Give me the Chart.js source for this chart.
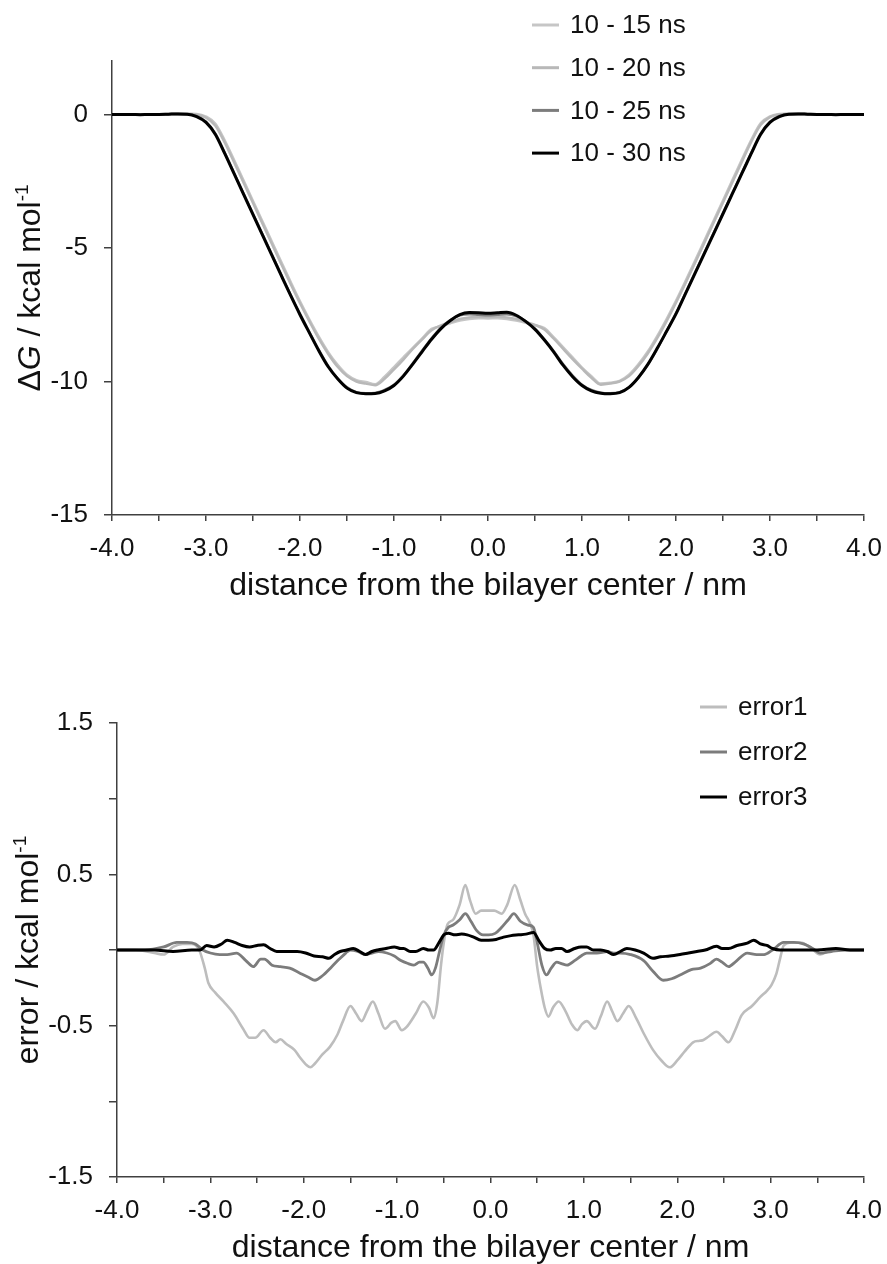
<!DOCTYPE html>
<html lang="en">
<head>
<meta charset="UTF-8">
<title>Free energy profile</title>
<style>
    body { margin: 0; background: #fff; }
    .panel { position: absolute; left: 0; width: 887px; }
    #topPanel { top: 0; height: 620px; }
    #bottomPanel { top: 620px; height: 644px; }
</style>
</head>
<body>
<div class="panel" id="topPanel"><canvas id="dgChart"></canvas></div>
<div class="panel" id="bottomPanel"><canvas id="errChart"></canvas></div>
<script src="https://cdn.jsdelivr.net/npm/chart.js@4.4.1/dist/chart.umd.min.js"></script>
<script>
// distance grid for the free energy curves (nm)
const dgX = [-4.0,-3.9,-3.8,-3.7,-3.6,-3.5,-3.4,-3.3,-3.2,-3.1,-3.0,-2.9,-2.8,-2.7,-2.6,-2.5,-2.4,-2.3,-2.2,-2.1,
    -2.0,-1.9,-1.8,-1.7,-1.6,-1.5,-1.4,-1.3,-1.2,-1.1,-1.0,-0.9,-0.8,-0.7,-0.6,-0.5,-0.4,-0.3,-0.2,-0.1,
    0.0,0.1,0.2,0.3,0.4,0.5,0.6,0.7,0.8,0.9,1.0,1.1,1.2,1.3,1.4,1.5,1.6,1.7,1.8,1.9,
    2.0,2.1,2.2,2.3,2.4,2.5,2.6,2.7,2.8,2.9,3.0,3.1,3.2,3.3,3.4,3.5,3.6,3.7,3.8,3.9,4.0];

const dg15 = [0,0,0,0,0.01,0.01,0.02,0.03,0.03,0.02,-0.08,-0.35,-0.98,-1.72,-2.48,-3.24,-4.0,-4.76,-5.52,-6.27,
    -7.0,-7.68,-8.32,-8.9,-9.38,-9.75,-9.95,-10.02,-10.1,-9.82,-9.46,-9.1,-8.74,-8.39,-8.03,-7.93,-7.82,-7.72,-7.66,-7.63,
    -7.64,-7.63,-7.66,-7.72,-7.8,-7.9,-8.0,-8.35,-8.72,-9.1,-9.48,-9.8,-10.08,-10.05,-9.98,-9.75,-9.36,-8.88,-8.3,-7.66,
    -6.98,-6.25,-5.5,-4.74,-3.98,-3.22,-2.46,-1.7,-0.96,-0.33,-0.07,0.02,0.03,0.03,0.02,0.01,0.01,0,0,0,0];

const dg20 = [0,0,0,0,0,0.01,0.01,0.02,0.02,0.0,-0.12,-0.42,-1.06,-1.8,-2.56,-3.32,-4.08,-4.84,-5.6,-6.35,
    -7.07,-7.75,-8.4,-8.97,-9.45,-9.8,-10.0,-10.08,-10.14,-9.9,-9.55,-9.18,-8.78,-8.42,-8.08,-7.9,-7.78,-7.66,-7.6,-7.58,
    -7.59,-7.58,-7.6,-7.66,-7.77,-7.88,-8.05,-8.4,-8.78,-9.16,-9.52,-9.86,-10.12,-10.08,-10.0,-9.8,-9.42,-8.95,-8.38,-7.74,
    -7.05,-6.33,-5.58,-4.82,-4.06,-3.3,-2.54,-1.78,-1.03,-0.4,-0.1,0.0,0.02,0.02,0.01,0.01,0,0,0,0,0];

const dg25 = [0,0,0,-0.01,0,0,0.01,0.02,0.01,-0.06,-0.27,-0.72,-1.44,-2.2,-2.96,-3.72,-4.48,-5.24,-6.0,-6.75,
    -7.47,-8.15,-8.82,-9.42,-9.88,-10.22,-10.4,-10.44,-10.43,-10.32,-10.12,-9.77,-9.32,-8.84,-8.38,-7.98,-7.7,-7.52,-7.48,-7.5,
    -7.52,-7.5,-7.48,-7.55,-7.74,-8.02,-8.42,-8.87,-9.36,-9.78,-10.12,-10.32,-10.42,-10.44,-10.4,-10.22,-9.86,-9.38,-8.78,-8.12,
    -7.44,-6.7,-5.94,-5.19,-4.44,-3.69,-2.94,-2.19,-1.44,-0.72,-0.27,-0.06,0.01,0.02,0.01,0,0,-0.01,0,0,0];

const dg30 = [0,0,0,-0.01,0,0,0.01,0.02,0.01,-0.08,-0.3,-0.75,-1.47,-2.23,-2.99,-3.75,-4.51,-5.27,-6.03,-6.78,
    -7.5,-8.18,-8.85,-9.45,-9.9,-10.25,-10.42,-10.46,-10.45,-10.35,-10.15,-9.8,-9.35,-8.88,-8.42,-8.02,-7.72,-7.5,-7.42,-7.43,
    -7.45,-7.43,-7.41,-7.52,-7.75,-8.05,-8.45,-8.9,-9.4,-9.82,-10.15,-10.35,-10.44,-10.46,-10.42,-10.22,-9.85,-9.36,-8.76,-8.12,
    -7.47,-6.72,-5.97,-5.22,-4.47,-3.72,-2.97,-2.22,-1.47,-0.75,-0.3,-0.08,0.01,0.02,0.01,0,0,-0.01,0,0,0];

// error curves, sampled where they change
const err1X = [-4.0,-3.8,-3.6,-3.5,-3.4,-3.3,-3.2,-3.12,-3.06,-3.02,-2.95,-2.86,-2.75,-2.65,-2.58,-2.52,-2.43,-2.36,-2.3,-2.25,
    -2.19,-2.1,-2.04,-1.97,-1.93,-1.88,-1.8,-1.72,-1.64,-1.58,-1.5,-1.44,-1.38,-1.32,-1.26,-1.2,-1.13,-1.06,-1.02,-0.95,
    -0.9,-0.8,-0.72,-0.66,-0.61,-0.57,-0.53,-0.5,-0.46,-0.4,-0.33,-0.27,-0.22,-0.16,-0.1,-0.04,0.04,0.12,0.18,0.26,
    0.32,0.37,0.42,0.46,0.5,0.54,0.58,0.62,0.67,0.73,0.8,0.87,0.93,0.98,1.03,1.12,1.18,1.25,1.3,1.36,
    1.42,1.48,1.56,1.64,1.74,1.83,1.92,2.0,2.08,2.17,2.24,2.28,2.34,2.42,2.48,2.55,2.62,2.69,2.8,2.89,
    2.96,3.01,3.06,3.1,3.14,3.22,3.32,3.42,3.53,3.62,3.75,4.0];
const err1 = [0,0,-0.02,-0.03,0.02,0.04,0.04,0.0,-0.12,-0.22,-0.28,-0.34,-0.42,-0.52,-0.58,-0.58,-0.53,-0.58,-0.61,-0.59,
    -0.62,-0.66,-0.71,-0.76,-0.775,-0.75,-0.69,-0.64,-0.56,-0.47,-0.37,-0.42,-0.47,-0.4,-0.34,-0.42,-0.52,-0.48,-0.47,-0.53,
    -0.51,-0.42,-0.34,-0.38,-0.45,-0.35,-0.1,0.05,0.17,0.2,0.3,0.43,0.33,0.24,0.26,0.26,0.26,0.24,0.3,0.43,
    0.33,0.24,0.18,0.1,-0.11,-0.26,-0.38,-0.44,-0.38,-0.34,-0.4,-0.49,-0.53,-0.49,-0.47,-0.52,-0.44,-0.34,-0.4,-0.47,
    -0.42,-0.37,-0.45,-0.55,-0.66,-0.73,-0.775,-0.73,-0.67,-0.61,-0.6,-0.595,-0.57,-0.54,-0.57,-0.61,-0.53,-0.43,-0.37,-0.31,
    -0.27,-0.23,-0.16,-0.06,0.03,0.05,0.05,0.02,-0.03,-0.01,0,0];

const err2X = [-4.0,-3.7,-3.5,-3.36,-3.25,-3.16,-3.08,-3.0,-2.9,-2.82,-2.72,-2.62,-2.54,-2.46,-2.42,-2.34,-2.25,-2.15,-2.05,-1.95,
    -1.88,-1.8,-1.7,-1.62,-1.55,-1.5,-1.42,-1.34,-1.27,-1.2,-1.11,-1.03,-0.96,-0.88,-0.82,-0.76,-0.72,-0.67,-0.63,-0.59,
    -0.55,-0.5,-0.45,-0.4,-0.33,-0.27,-0.21,-0.15,-0.08,-0.02,0.05,0.12,0.19,0.25,0.32,0.4,0.46,0.5,0.55,0.6,
    0.65,0.71,0.76,0.82,0.9,0.97,1.03,1.14,1.25,1.32,1.39,1.5,1.64,1.74,1.85,1.94,2.03,2.15,2.25,2.35,
    2.42,2.48,2.55,2.62,2.75,2.85,2.93,3.02,3.14,3.25,3.35,3.45,3.53,3.65,3.8,4.0];
const err2 = [0,0,0.02,0.05,0.05,0.04,0.0,-0.02,-0.03,-0.03,-0.02,-0.07,-0.11,-0.06,-0.06,-0.1,-0.11,-0.12,-0.15,-0.18,
    -0.2,-0.17,-0.11,-0.06,-0.02,0.0,-0.01,-0.03,-0.02,-0.01,-0.02,-0.04,-0.07,-0.09,-0.1,-0.08,-0.08,-0.12,-0.165,-0.12,
    -0.02,0.1,0.15,0.165,0.2,0.24,0.19,0.13,0.1,0.1,0.11,0.15,0.2,0.24,0.19,0.165,0.15,0.05,-0.1,-0.165,
    -0.12,-0.08,-0.09,-0.1,-0.07,-0.04,-0.02,-0.02,-0.01,-0.02,-0.02,-0.03,-0.07,-0.14,-0.2,-0.19,-0.165,-0.13,-0.12,-0.09,
    -0.06,-0.08,-0.11,-0.08,-0.02,-0.03,-0.03,0.0,0.05,0.05,0.04,0.01,-0.02,-0.01,0,0];

const err3X = [-4.0,-3.8,-3.6,-3.4,-3.2,-3.11,-3.04,-2.96,-2.88,-2.82,-2.74,-2.66,-2.58,-2.5,-2.43,-2.36,-2.29,-2.18,-2.07,-1.98,
    -1.89,-1.8,-1.73,-1.67,-1.61,-1.54,-1.47,-1.4,-1.34,-1.27,-1.21,-1.12,-1.03,-0.96,-0.93,-0.86,-0.8,-0.72,-0.66,-0.61,
    -0.55,-0.5,-0.45,-0.38,-0.31,-0.25,-0.18,-0.1,-0.02,0.06,0.14,0.22,0.3,0.38,0.46,0.52,0.58,0.64,0.7,0.76,
    0.82,0.9,0.97,1.03,1.1,1.18,1.25,1.32,1.39,1.46,1.55,1.64,1.74,1.82,1.92,2.03,2.12,2.21,2.3,2.42,
    2.48,2.55,2.64,2.75,2.82,2.89,2.96,3.02,3.1,3.3,3.5,3.7,3.85,4.0];
const err3 = [0,0,0,-0.01,0,0,0.03,0.02,0.04,0.065,0.05,0.03,0.02,0.03,0.035,0.01,-0.01,-0.01,-0.01,-0.02,
    -0.04,-0.045,-0.055,-0.03,-0.01,0,0.01,-0.01,-0.03,-0.01,0,0.01,0.02,0.01,0.01,-0.01,-0.01,0.01,0,0,
    0.05,0.1,0.11,0.1,0.105,0.1,0.085,0.065,0.065,0.07,0.085,0.095,0.1,0.105,0.115,0.06,0.01,0,0.01,0.01,
    -0.01,0.01,0.02,0.02,0,0,-0.01,-0.03,-0.01,0.01,0,-0.02,-0.055,-0.045,-0.04,-0.03,-0.02,-0.01,0,0.025,
    0.01,0.01,0.03,0.045,0.065,0.04,0.03,0.01,0,0,0,0.01,0,0];

// axis ticks
const xTicks = [-4.0,-3.5,-3.0,-2.5,-2.0,-1.5,-1.0,-0.5,0.0,0.5,1.0,1.5,2.0,2.5,3.0,3.5,4.0];
const dgTicks = [-15, -10, -5, 0];
const errTicks = [-1.5, -1.0, -0.5, 0.0, 0.5, 1.0, 1.5];
const errLabelled = [-1.5, -0.5, 0.5, 1.5];

const FONT = '"Liberation Sans", Arial, Helvetica, sans-serif';
const INK = '#111111';
const AXIS = '#404040';
Chart.defaults.font.family = FONT;
Chart.defaults.color = INK;

function pts(xs, ys) {
    return xs.map((x, i) => ({x: x, y: ys[i]}));
}

function series(label, xs, ys, color, order, width) {
    return {
        label: label, data: pts(xs, ys), borderColor: color, backgroundColor: color,
        borderWidth: width, pointRadius: 0, cubicInterpolationMode: 'monotone', order: order
    };
}

// legend and axis titles drawn by hand (italic G, superscript -1)
function decor(o) {
    return {
        id: 'decor',
        afterDraw(chart) {
            const ctx = chart.ctx, a = chart.chartArea;
            ctx.save();
            ctx.font = '26px ' + FONT;
            ctx.textBaseline = 'middle';
            ctx.textAlign = 'left';
            chart.data.datasets.forEach((ds, i) => {
                const y = o.legendY + i * o.legendStep;
                ctx.strokeStyle = ds.borderColor;
                ctx.lineWidth = 3;
                ctx.beginPath();
                ctx.moveTo(o.legendX, y);
                ctx.lineTo(o.legendX + 27, y);
                ctx.stroke();
                ctx.fillStyle = INK;
                ctx.fillText(ds.label, o.legendX + 38, y + 1);
            });

            ctx.fillStyle = INK;
            ctx.textAlign = 'center';
            ctx.textBaseline = 'alphabetic';
            ctx.font = '32px ' + FONT;
            ctx.fillText('distance from the bilayer center / nm', (a.left + a.right) / 2, a.bottom + 80);

            // rotated y title made of pieces
            ctx.translate(o.yTitleX, (a.top + a.bottom) / 2);
            ctx.rotate(-Math.PI / 2);
            ctx.textAlign = 'left';
            let total = 0;
            o.yTitle.forEach(p => { ctx.font = p.font; total += ctx.measureText(p.t).width; });
            let x = -total / 2;
            o.yTitle.forEach(p => {
                ctx.font = p.font;
                ctx.fillText(p.t, x, p.rise || 0);
                x += ctx.measureText(p.t).width;
            });
            ctx.restore();
        }
    };
}

function xScale() {
    return {
        type: 'linear', min: -4, max: 4,
        afterBuildTicks: s => { s.ticks = xTicks.map(v => ({value: v})); },
        afterFit: s => {
            s.height = s.chart.height - s.chart.options.plotBottom;
            s.paddingLeft = 0;
            s.paddingRight = 0;
        },
        ticks: {
            autoSkip: false, maxRotation: 0, padding: 12,
            font: {size: 26}, color: INK,
            callback: v => Number.isInteger(v) ? v.toFixed(1) : ''
        },
        grid: {drawOnChartArea: false, drawTicks: true, tickLength: 6, color: AXIS, lineWidth: 1.5},
        border: {display: true, color: AXIS, width: 1.5}
    };
}

function yScale(min, max, ticks, labelled, width) {
    return {
        type: 'linear', min: min, max: max,
        afterBuildTicks: s => { s.ticks = ticks.map(v => ({value: v})); },
        afterFit: s => { s.width = width; s.paddingTop = 0; s.paddingBottom = 0; },
        ticks: {
            autoSkip: false, padding: 16,
            font: {size: 26}, color: INK,
            callback: v => labelled.includes(v) ? String(v) : ''
        },
        grid: {drawOnChartArea: false, drawTicks: true, tickLength: 8, color: AXIS, lineWidth: 1.5},
        border: {display: true, color: AXIS, width: 1.5}
    };
}

const titleFont = '32px ' + FONT;
const supFont = '19px ' + FONT;

const dgChart = new Chart(document.getElementById('dgChart'), {
    type: 'line',
    data: {
        datasets: [
            series('10 - 15 ns', dgX, dg15, '#c6c6c6', 3, 2.5),
            series('10 - 20 ns', dgX, dg20, '#b8b8b8', 2, 2.5),
            series('10 - 25 ns', dgX, dg25, '#7c7c7c', 1, 2.5),
            series('10 - 30 ns', dgX, dg30, '#000000', 0, 3)
        ]
    },
    options: {
        responsive: true, maintainAspectRatio: false, animation: false,
        plotBottom: 515,
        layout: {padding: {top: 61, right: 23, left: 0, bottom: 0}},
        plugins: {legend: {display: false}, tooltip: {enabled: false}},
        scales: {
            x: xScale(),
            y: yScale(-15, 2, dgTicks, dgTicks, 112)
        }
    },
    plugins: [decor({
        legendX: 532, legendY: 25, legendStep: 42.7, yTitleX: 40,
        yTitle: [
            {t: 'Δ', font: titleFont},
            {t: 'G', font: 'italic ' + titleFont},
            {t: ' / kcal mol', font: titleFont},
            {t: '-1', font: supFont, rise: -12}
        ]
    })]
});

const errChart = new Chart(document.getElementById('errChart'), {
    type: 'line',
    data: {
        datasets: [
            series('error1', err1X, err1, '#bdbdbd', 2, 2.6),
            series('error2', err2X, err2, '#7c7c7c', 1, 2.8),
            series('error3', err3X, err3, '#000000', 0, 3)
        ]
    },
    options: {
        responsive: true, maintainAspectRatio: false, animation: false,
        plotBottom: 557,
        layout: {padding: {top: 103, right: 23, left: 0, bottom: 0}},
        plugins: {legend: {display: false}, tooltip: {enabled: false}},
        scales: {
            x: xScale(),
            y: yScale(-1.5, 1.5, errTicks, errLabelled, 117)
        }
    },
    plugins: [decor({
        legendX: 700, legendY: 87, legendStep: 45, yTitleX: 38,
        yTitle: [
            {t: 'error / kcal mol', font: titleFont},
            {t: '-1', font: supFont, rise: -12}
        ]
    })]
});
</script>
</body>
</html>
